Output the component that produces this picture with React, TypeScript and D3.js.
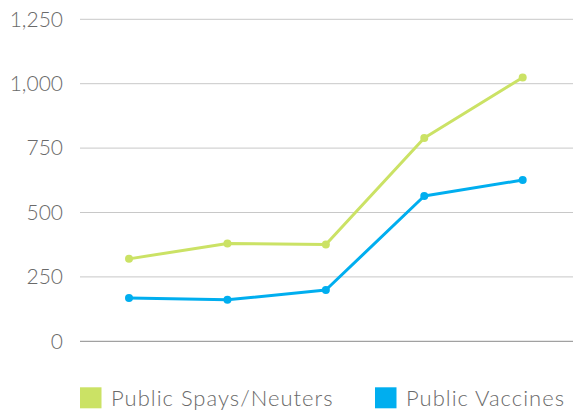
import React from "react";
import * as d3 from "d3";

const categories = ["1", "2", "3", "4", "5"];
const spaysNeuters = [320, 380, 376, 789, 1024];
const vaccines = [168, 161, 199, 564, 626];
const yTicks = [0, 250, 500, 750, 1000, 1250];
const seriesNames = ["Public Spays/Neuters", "Public Vaccines"];
const seriesColors = ["#cbe265", "#00aeef"];

const W = 573, H = 412;
const FONT = "Lato, 'Open Sans', sans-serif";

export default function App() {
  const x = d3.scalePoint<string>().domain(categories).range([129, 522.7]);
  const y = d3.scaleLinear().domain([0, 1250]).range([341.3, 19.3]);
  const line = d3.line<number>().x((_, i) => x(categories[i])!).y((d) => y(d));
  const series = [spaysNeuters, vaccines];
  const fmt = d3.format(",");
  return (
    <div style={{ position: "absolute", left: 0, top: 0 }}>
      <svg width={W} height={H} style={{ display: "block" }}>
        {yTicks.map((t) => (
          <g key={t}>
            <line x1={80} x2={W} y1={y(t)} y2={y(t)} stroke={t === 0 ? "#8a8a8a" : "#c8c8c8"} strokeWidth={1} />
            <text x={63} y={y(t)} dy="0.35em" textAnchor="end" fontFamily={FONT} fontWeight={300} fontSize={21} fill="#6a6a6a">
              {fmt(t)}
            </text>
          </g>
        ))}
        {series.map((s, si) => (
          <g key={si}>
            <path d={line(s)!} fill="none" stroke={seriesColors[si]} strokeWidth={3} strokeLinejoin="round" />
            {s.map((v, i) => (
              <circle key={i} cx={x(categories[i])} cy={y(v)} r={4} fill={seriesColors[si]} />
            ))}
          </g>
        ))}
        {seriesNames.map((n, i) => {
          const lx = i === 0 ? 80 : 375;
          return (
            <g key={n}>
              <rect x={lx} y={387.3} width={21.5} height={21} fill={seriesColors[i]} />
              <text x={lx + 31} y={398} dy="0.35em" fontFamily={FONT} fontWeight={300} fontSize={22} letterSpacing={1} fill="#6a6a6a">
                {n}
              </text>
            </g>
          );
        })}
      </svg>
    </div>
  );
}
